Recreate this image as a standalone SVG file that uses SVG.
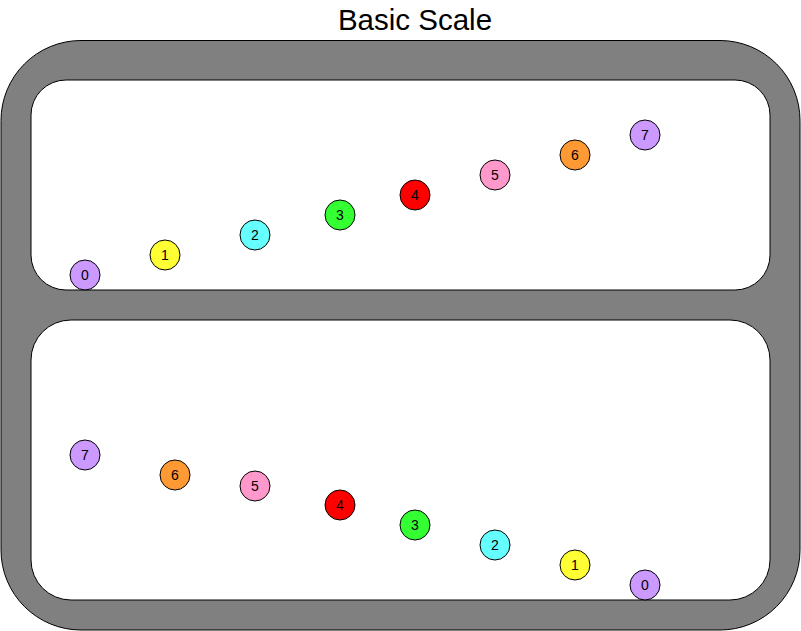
<svg xmlns="http://www.w3.org/2000/svg" width="801" height="631" viewBox="0 0 801 631">
<style>
.frame{fill:#808080;stroke:#000;stroke-width:1}
.panel{fill:#fff;stroke:#000;stroke-width:1}
.n circle{stroke:#000;stroke-width:1}
.n text{font-family:"Liberation Sans",Arial,sans-serif;font-size:14px;text-anchor:middle;dominant-baseline:central;fill:#000}
.title{font-family:"Liberation Sans",Arial,sans-serif;font-size:29.5px;text-anchor:middle;fill:#000}
.p{fill:#CC99FF}.y{fill:#FFFF33}.c{fill:#66FFFF}.g{fill:#33FF33}.r{fill:#FF0000}.k{fill:#FF99CC}.o{fill:#FF9933}
</style>
<rect width="801" height="631" fill="#fff"/>
<text class="title" x="415" y="30">Basic Scale</text>
<g id="frame">
<rect class="frame" x="1" y="40.5" width="799" height="589.5" rx="80" ry="80"/>
<rect class="panel" x="31" y="80" width="739" height="210" rx="35" ry="35"/>
<rect class="panel" x="31" y="320" width="739" height="280" rx="40" ry="40"/>
</g>
<g id="connectors"></g>
<g id="top">
<g id="t0" class="n"><circle class="p" cx="85" cy="275" r="15"/><text x="85" y="275">0</text></g>
<g id="t1" class="n"><circle class="y" cx="165" cy="255" r="15"/><text x="165" y="255">1</text></g>
<g id="t2" class="n"><circle class="c" cx="255" cy="235" r="15"/><text x="255" y="235">2</text></g>
<g id="t3" class="n"><circle class="g" cx="340" cy="215" r="15"/><text x="340" y="215">3</text></g>
<g id="t4" class="n"><circle class="r" cx="415" cy="195" r="15"/><text x="415" y="195">4</text></g>
<g id="t5" class="n"><circle class="k" cx="495" cy="175" r="15"/><text x="495" y="175">5</text></g>
<g id="t6" class="n"><circle class="o" cx="575" cy="155" r="15"/><text x="575" y="155">6</text></g>
<g id="t7" class="n"><circle class="p" cx="645" cy="135" r="15"/><text x="645" y="135">7</text></g>
</g>
<g id="bottom">
<g id="b7" class="n"><circle class="p" cx="85" cy="455" r="15"/><text x="85" y="455">7</text></g>
<g id="b6" class="n"><circle class="o" cx="175" cy="475" r="15"/><text x="175" y="475">6</text></g>
<g id="b5" class="n"><circle class="k" cx="255" cy="486" r="15"/><text x="255" y="486">5</text></g>
<g id="b4" class="n"><circle class="r" cx="340" cy="505" r="15"/><text x="340" y="505">4</text></g>
<g id="b3" class="n"><circle class="g" cx="415" cy="525" r="15"/><text x="415" y="525">3</text></g>
<g id="b2" class="n"><circle class="c" cx="495" cy="545" r="15"/><text x="495" y="545">2</text></g>
<g id="b1" class="n"><circle class="y" cx="575" cy="565" r="15"/><text x="575" y="565">1</text></g>
<g id="b0" class="n"><circle class="p" cx="645" cy="585" r="15"/><text x="645" y="585">0</text></g>
</g>
</svg>
